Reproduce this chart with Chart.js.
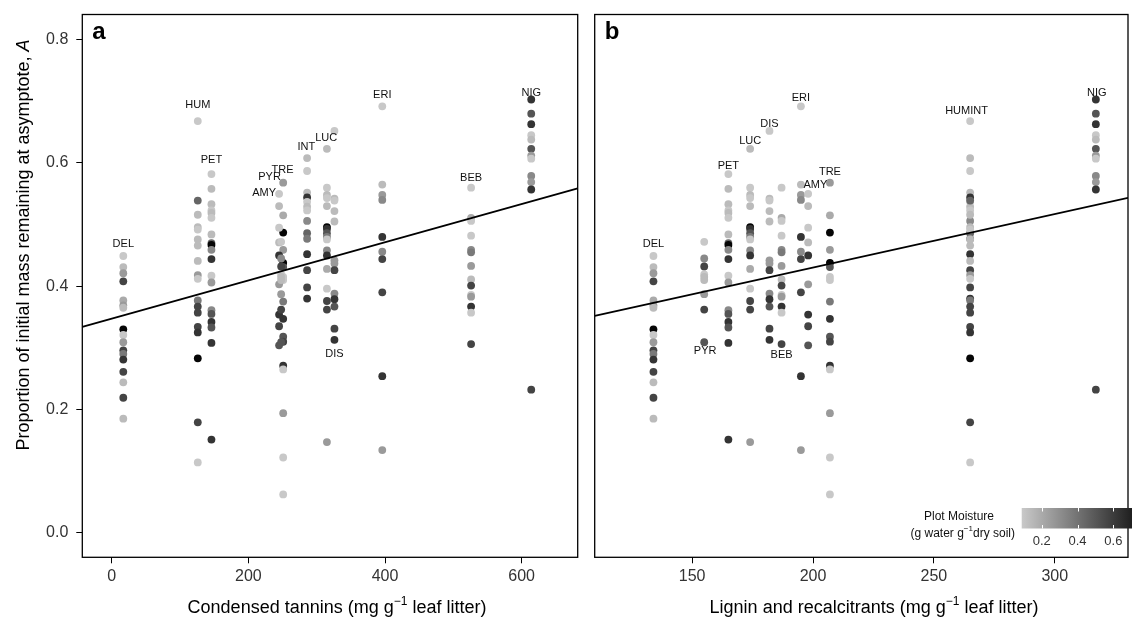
<!DOCTYPE html>
<html>
<head>
<meta charset="utf-8">
<script src="https://cdn.jsdelivr.net/npm/chart.js@4.4.0/dist/chart.umd.min.js"></script>
<style>
body { margin: 0; background: #fff; }
#wrap { position: relative; width: 1132px; height: 622px; overflow: hidden; }
canvas { position: absolute; top: 0; }
</style>
</head>
<body>
<div id="wrap">
  <canvas id="panelA" width="586" height="622" style="left:0"></canvas>
  <canvas id="panelB" width="546" height="622" style="left:586px"></canvas>
</div>
<script>
// species and their litter chemistry
var species = ['DEL','HUM','PET','PYR','AMY','TRE','INT','LUC','DIS','ERI','BEB','NIG'];
var tannins = [17, 126, 146, 248, 245, 251, 286, 315, 326, 396, 526, 614];
var lignin  = [134, 265, 165, 155, 198, 207, 265, 174, 182, 195, 187, 317];

// mass remaining at asymptote (A) and plot moisture, per species
var massDEL  = [0.449,0.431,0.421,0.408,0.377,0.369,0.365,0.330,0.321,0.309,0.296,0.290,0.281,0.261,0.244,0.219,0.185];
var moistDEL = [0.09,0.14,0.26,0.57,0.20,0.26,0.14,0.80,0.09,0.26,0.57,0.38,0.63,0.57,0.14,0.57,0.14];
var massHUM  = [0.668,0.539,0.516,0.496,0.492,0.476,0.466,0.441,0.418,0.412,0.377,0.367,0.357,0.334,0.325,0.283,0.179,0.114];
var moistHUM = [0.09,0.45,0.14,0.14,0.09,0.14,0.14,0.14,0.26,0.09,0.38,0.57,0.57,0.57,0.63,0.80,0.57,0.09];
var massPET  = [0.582,0.558,0.533,0.523,0.519,0.511,0.484,0.470,0.467,0.459,0.444,0.417,0.406,0.361,0.355,0.342,0.333,0.308,0.151];
var moistPET = [0.09,0.14,0.14,0.09,0.14,0.09,0.14,0.45,0.80,0.32,0.63,0.09,0.26,0.32,0.51,0.63,0.51,0.63,0.63];
var massPYR  = [0.472,0.445,0.432,0.419,0.415,0.410,0.387,0.362,0.309];
var moistPYR = [0.09,0.32,0.57,0.09,0.14,0.14,0.26,0.57,0.51];
var massAMY  = [0.550,0.530,0.495,0.471,0.450,0.403,0.354,0.335,0.304];
var moistAMY = [0.09,0.14,0.09,0.14,0.63,0.26,0.63,0.57,0.51];
var massTRE  = [0.568,0.515,0.487,0.459,0.438,0.431,0.415,0.410,0.375,0.347,0.318,0.310,0.271,0.265,0.194,0.122,0.062];
var moistTRE = [0.26,0.20,0.80,0.26,0.80,0.51,0.09,0.09,0.38,0.63,0.51,0.57,0.63,0.09,0.26,0.09,0.09];
var massINT  = [0.608,0.587,0.552,0.544,0.537,0.529,0.523,0.506,0.486,0.477,0.452,0.426,0.398,0.380];
var moistINT = [0.14,0.09,0.14,0.63,0.09,0.14,0.09,0.32,0.45,0.38,0.63,0.57,0.57,0.63];
var massLUC  = [0.623,0.560,0.548,0.543,0.530,0.496,0.493,0.486,0.480,0.476,0.458,0.450,0.428,0.396,0.376,0.362,0.147];
var moistLUC = [0.14,0.09,0.14,0.09,0.14,0.80,0.63,0.51,0.38,0.09,0.32,0.63,0.20,0.09,0.57,0.57,0.26];
var massDIS  = [0.652,0.542,0.539,0.522,0.505,0.442,0.437,0.426,0.388,0.379,0.367,0.331,0.313];
var moistDIS = [0.09,0.14,0.09,0.14,0.14,0.26,0.26,0.57,0.32,0.63,0.51,0.57,0.63];
var massERI  = [0.692,0.565,0.548,0.540,0.480,0.456,0.444,0.390,0.254,0.134];
var moistERI = [0.09,0.14,0.26,0.32,0.63,0.32,0.57,0.57,0.63,0.26];
var massBEB  = [0.560,0.511,0.506,0.482,0.459,0.455,0.433,0.411,0.401,0.386,0.383,0.367,0.357,0.306];
var moistBEB = [0.09,0.20,0.09,0.09,0.32,0.38,0.26,0.14,0.57,0.09,0.26,0.63,0.09,0.57];
var massNIG  = [0.703,0.680,0.663,0.645,0.638,0.623,0.612,0.607,0.579,0.569,0.557,0.232];
var moistNIG = [0.63,0.51,0.63,0.09,0.14,0.51,0.26,0.09,0.32,0.26,0.63,0.57];

var massBySpecies  = [massDEL,massHUM,massPET,massPYR,massAMY,massTRE,massINT,massLUC,massDIS,massERI,massBEB,massNIG];
var moistBySpecies = [moistDEL,moistHUM,moistPET,moistPYR,moistAMY,moistTRE,moistINT,moistLUC,moistDIS,moistERI,moistBEB,moistNIG];

// fitted lines: [intercept, slope]
var fitA = [0.3473, 0.000310];
var fitB = [0.2568, 0.000868];

// axis ranges and ticks
var yRange = [-0.040, 0.841];
var yTicks = [0, 0.2, 0.4, 0.6, 0.8];
var xRangeA = [-43, 682];
var xTicksA = [0, 200, 400, 600];
var xRangeB = [109.7, 330.3];
var xTicksB = [150, 200, 250, 300];

// species labels (data coordinates)
var labelXA = [17, 126, 146, 231, 223, 250, 285, 314, 326, 396, 526, 614];
var labelYA = [0.469, 0.694, 0.605, 0.577, 0.551, 0.589, 0.626, 0.641, 0.290, 0.710, 0.575, 0.714];
var labelsB = ['DEL','PYR','PET','LUC','DIS','BEB','ERI','AMY','TRE','HUMINT','NIG'];
var labelXB = [134, 155.4, 165, 174, 182, 187, 195, 201, 207, 263.5, 317.4];
var labelYB = [0.469, 0.295, 0.595, 0.635, 0.664, 0.289, 0.705, 0.565, 0.585, 0.684, 0.714];

// moisture colour bar
var moistRange = [0.088, 0.704];
var moistTicks = [0.2, 0.4, 0.6];

var FONT = '"Liberation Sans", Arial, Helvetica, sans-serif';
Chart.defaults.font.family = FONT;

function grey(m) {
  var g = Math.round(225 - 275 * m);
  g = Math.max(0, Math.min(255, g));
  return 'rgb(' + g + ',' + g + ',' + g + ')';
}

function pointSets(xs) {
  return species.map(function (sp, i) {
    var cols = moistBySpecies[i].map(grey);
    return {
      label: sp,
      data: massBySpecies[i].map(function (a) { return { x: xs[i], y: a }; }),
      pointBackgroundColor: cols,
      pointBorderColor: cols,
      pointBorderWidth: 0,
      pointRadius: 3.9,
      showLine: false
    };
  });
}

function fitLine(fit, range) {
  return {
    type: 'line',
    label: 'fit',
    data: range.map(function (x) { return { x: x, y: fit[0] + fit[1] * x }; }),
    borderColor: '#000',
    borderWidth: 1.8,
    pointRadius: 0,
    fill: false
  };
}

// draw text with a "-1" superscript in the middle part
function supText(ctx, parts, cx, y, size, align) {
  var big = size + 'px ' + FONT, small = Math.round(size * 0.68) + 'px ' + FONT;
  ctx.font = big;
  var w0 = ctx.measureText(parts[0]).width, w2 = ctx.measureText(parts[2]).width;
  ctx.font = small;
  var w1 = ctx.measureText(parts[1]).width;
  var total = w0 + w1 + w2;
  var x = align === 'right' ? cx - total : cx - total / 2;
  ctx.textAlign = 'left';
  ctx.font = big; ctx.fillText(parts[0], x, y);
  ctx.font = small; ctx.fillText(parts[1], x + w0, y - size * 0.4);
  ctx.font = big; ctx.fillText(parts[2], x + w0 + w1, y);
}

function panelPlugin(opts) {
  return {
    id: 'panelDecor',
    afterDatasetsDraw: function (chart) {
      var ctx = chart.ctx, xs = chart.scales.x, ys = chart.scales.y;
      ctx.save();
      ctx.fillStyle = '#111';
      ctx.font = '11px ' + FONT;
      ctx.textAlign = 'center';
      ctx.textBaseline = 'middle';
      opts.labels.forEach(function (t, i) {
        ctx.fillText(t, xs.getPixelForValue(opts.lx[i]), ys.getPixelForValue(opts.ly[i]));
      });
      ctx.restore();
    },
    afterDraw: function (chart) {
      var ctx = chart.ctx, ca = chart.chartArea;
      ctx.save();
      ctx.strokeStyle = '#000';
      ctx.lineWidth = 1.3;
      ctx.strokeRect(ca.left, ca.top, ca.right - ca.left, ca.bottom - ca.top);
      // panel letter
      ctx.fillStyle = '#000';
      ctx.font = 'bold 24px ' + FONT;
      ctx.textAlign = 'left';
      ctx.textBaseline = 'alphabetic';
      ctx.fillText(opts.letter, ca.left + 10, 38.5);
      // x title
      supText(ctx, opts.xTitle, opts.xTitleX, 612.5, 18, 'center');
      if (opts.extra) opts.extra(ctx, chart);
      ctx.restore();
    }
  };
}

function drawYTitle(ctx) {
  var a = 'Proportion of initial mass remaining at asymptote, ';
  ctx.save();
  ctx.translate(24, 245);
  ctx.rotate(-Math.PI / 2);
  ctx.fillStyle = '#000';
  ctx.textBaseline = 'middle';
  ctx.textAlign = 'left';
  ctx.font = '18px ' + FONT;
  var w1 = ctx.measureText(a).width;
  ctx.font = 'italic 18px ' + FONT;
  var w2 = ctx.measureText('A').width;
  var x0 = -(w1 + w2) / 2;
  ctx.font = '18px ' + FONT;
  ctx.fillText(a, x0, 0);
  ctx.font = 'italic 18px ' + FONT;
  ctx.fillText('A', x0 + w1, 0);
  ctx.restore();
}

function drawMoistLegend(ctx) {
  var left = 435.7, right = 546, top = 508, bottom = 528.5;
  var px = function (v) { return left + (v - moistRange[0]) / (moistRange[1] - moistRange[0]) * (right - left); };
  var g = ctx.createLinearGradient(left, 0, right, 0);
  g.addColorStop(0, grey(moistRange[0]));
  g.addColorStop(1, grey(moistRange[1]));
  ctx.fillStyle = g;
  ctx.fillRect(left, top, right - left, bottom - top);
  ctx.strokeStyle = '#fff';
  ctx.lineWidth = 1;
  moistTicks.forEach(function (v) {
    var x = Math.round(px(v)) + 0.5;
    ctx.beginPath();
    ctx.moveTo(x, top); ctx.lineTo(x, top + 3.5);
    ctx.moveTo(x, bottom - 3.5); ctx.lineTo(x, bottom);
    ctx.stroke();
  });
  ctx.fillStyle = '#333';
  ctx.font = '13px ' + FONT;
  ctx.textAlign = 'center';
  ctx.textBaseline = 'middle';
  moistTicks.forEach(function (v) { ctx.fillText(v.toFixed(1), px(v), 541.5); });
  ctx.fillStyle = '#111';
  ctx.font = '12px ' + FONT;
  ctx.fillText('Plot Moisture', 373, 516.5);
  ctx.textBaseline = 'middle';
  supText(ctx, ['(g water g', '\u22121', 'dry soil)'], 429, 533.5, 12, 'right');
}

function scaleOpts(range, ticks, fmt, pos) {
  return {
    type: 'linear',
    position: pos,
    min: range[0],
    max: range[1],
    afterBuildTicks: function (s) { s.ticks = ticks.map(function (v) { return { value: v }; }); },
    ticks: { color: '#333', font: { size: 16 }, padding: pos === 'left' ? 8 : 4, callback: fmt, autoSkip: false, maxRotation: 0 },
    grid: { drawOnChartArea: false, drawTicks: true, tickLength: 6, color: '#000', lineWidth: 1 },
    border: { display: false }
  };
}

function makeChart(id, xs, fit, xRange, xTicks, plugin, showY, padLeft, padRight) {
  var datasets = [fitLine(fit, xRange)].concat(pointSets(xs));
  var yOpt = scaleOpts(yRange, yTicks, function (v) { return v.toFixed(1); }, 'left');
  yOpt.display = showY;
  yOpt.afterFit = function (s) {
    s.width = showY ? 82.3 : 0;
    s.paddingTop = 0; s.paddingBottom = 0;
  };
  var xOpt = scaleOpts(xRange, xTicks, function (v) { return String(v); }, 'bottom');
  xOpt.afterFit = function (s) {
    s.height = 64.7;
    s.paddingLeft = 0; s.paddingRight = 0;
  };
  return new Chart(document.getElementById(id), {
    type: 'scatter',
    data: { datasets: datasets },
    options: {
      responsive: false,
      animation: false,
      devicePixelRatio: 1,
      layout: { padding: { left: padLeft, right: padRight, top: 14.5, bottom: 0 } },
      plugins: { legend: { display: false }, tooltip: { enabled: false } },
      scales: { x: xOpt, y: yOpt }
    },
    plugins: [plugin]
  });
}

makeChart('panelA', tannins, fitA, xRangeA, xTicksA, panelPlugin({
  labels: species, lx: labelXA, ly: labelYA, letter: 'a',
  xTitle: ['Condensed tannins (mg g', '\u22121', ' leaf litter)'], xTitleX: 337,
  extra: drawYTitle
}), true, 0, 8.3);

makeChart('panelB', lignin, fitB, xRangeB, xTicksB, panelPlugin({
  labels: labelsB, lx: labelXB, ly: labelYB, letter: 'b',
  xTitle: ['Lignin and recalcitrants (mg g', '\u22121', ' leaf litter)'], xTitleX: 288,
  extra: drawMoistLegend
}), false, 8.7, 1.5);
</script>
</body>
</html>
